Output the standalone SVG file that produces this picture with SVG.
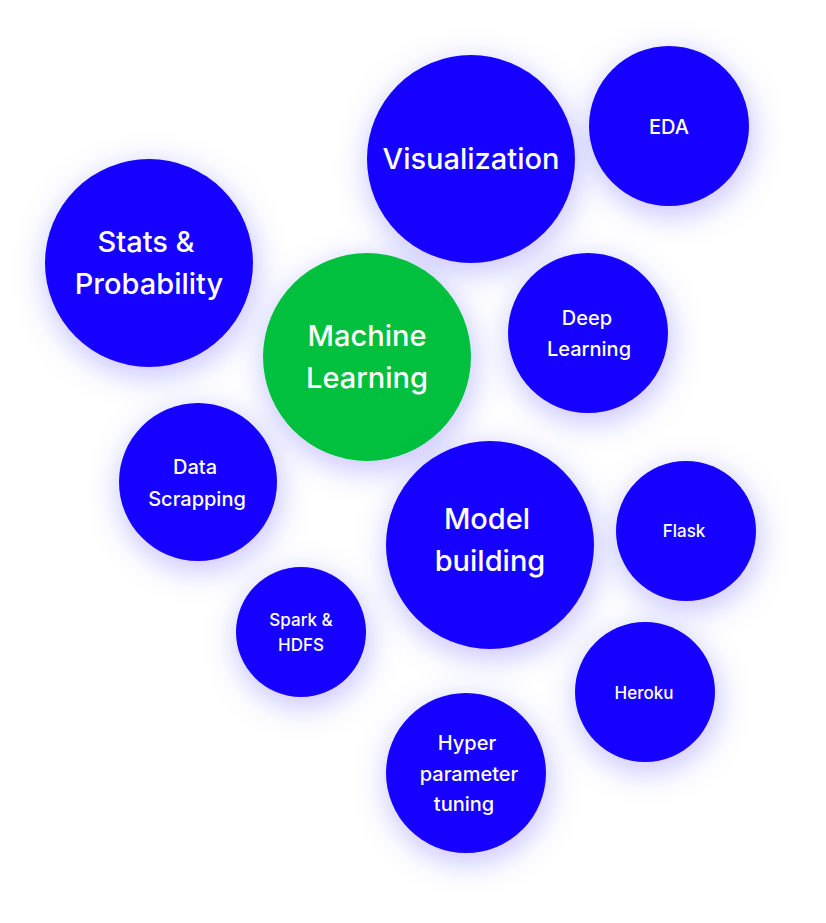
<svg xmlns="http://www.w3.org/2000/svg" width="826" height="923" viewBox="0 0 826 923">
<defs>
<filter id="glow" x="-50%" y="-50%" width="200%" height="200%">
<feDropShadow dx="2" dy="8" stdDeviation="16" flood-color="#1400ff" flood-opacity="0.26"/>
</filter>
<style>
.b{fill:#1400ff;filter:url(#glow)}
.g{fill:#03c03c;filter:url(#glow)}
text{fill:#ffffff;font-family:Inter,"Noto Sans","Liberation Sans",sans-serif;text-anchor:middle;font-weight:500}
.xl{font-size:29px}
.m{font-size:20px}
.s{font-size:17px}
</style>
</defs>
<rect width="826" height="923" fill="#ffffff"/>
<g id="visualization"><circle class="b" cx="471" cy="159" r="104"/><text class="xl" x="471" y="169">Visualization</text></g>
<g id="eda"><circle class="b" cx="669" cy="126" r="80"/><text class="m" x="669" y="134">EDA</text></g>
<g id="stats"><circle class="b" cx="149" cy="263" r="104"/><text class="xl" x="146" y="252">Stats &amp;</text><text class="xl" x="149" y="294">Probability</text></g>
<g id="deep-learning"><circle class="b" cx="588" cy="333" r="80"/><text class="m" x="587" y="325">Deep</text><text class="m" x="589" y="356">Learning</text></g>
<g id="machine-learning"><circle class="g" cx="367" cy="357" r="104"/><text class="xl" x="367" y="346">Machine</text><text class="xl" x="367" y="388">Learning</text></g>
<g id="data-scrapping"><circle class="b" cx="198" cy="482" r="79"/><text class="m" x="195" y="474">Data</text><text class="m" x="197" y="506">Scrapping</text></g>
<g id="model-building"><circle class="b" cx="490" cy="545" r="104"/><text class="xl" x="487" y="529">Model</text><text class="xl" x="490" y="571">building</text></g>
<g id="flask"><circle class="b" cx="686" cy="531" r="70"/><text class="s" x="684" y="537">Flask</text></g>
<g id="spark"><circle class="b" cx="301" cy="632" r="65"/><text class="s" x="301" y="626">Spark &amp;</text><text class="s" x="301" y="651">HDFS</text></g>
<g id="heroku"><circle class="b" cx="645" cy="692" r="70"/><text class="s" x="644" y="699">Heroku</text></g>
<g id="hyper"><circle class="b" cx="466" cy="773" r="80"/><text class="m" x="467" y="750">Hyper</text><text class="m" x="469" y="781">parameter</text><text class="m" x="464" y="811">tuning</text></g>
<g id="connectors"/>
</svg>
